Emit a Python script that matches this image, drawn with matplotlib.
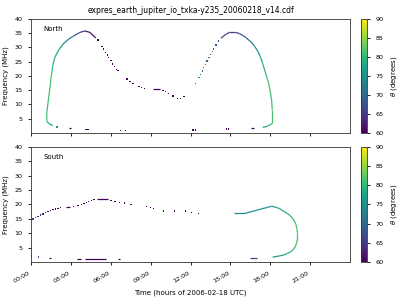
import numpy as np
import matplotlib
matplotlib.use('Agg')
from matplotlib import pyplot as plt
from matplotlib.collections import LineCollection
from matplotlib.ticker import FuncFormatter

title = 'expres_earth_jupiter_io_txka-y235_20060218_v14.cdf'

# North hemisphere -------------------------------------------------------
# continuous arcs: time (h), frequency (MHz), theta (deg)
n_arc1_t = [1.65, 1.43, 1.2, 1.18, 1.2, 1.28, 1.35, 1.43, 1.5, 1.58, 1.65, 1.78, 1.95,
            2.18, 2.48, 2.85, 3.23, 3.68, 4.05, 4.43, 4.88]
n_arc1_f = [2.7, 3.0, 4.0, 5.5, 7.7, 10.5, 13.3, 16.0, 19.2, 21.5, 23.9, 26.3, 28.0,
            29.8, 31.5, 33.0, 34.1, 35.3, 35.8, 35.3, 33.3]
n_arc1_th = [77, 79, 81, 81, 81, 81, 81, 81, 81, 80, 80, 79, 78,
             76, 74, 71, 68, 65, 62, 61, 60]

n_arc2_t = [14.3, 14.5, 14.73, 14.93, 15.38, 15.68, 15.93, 16.18, 16.38, 16.55, 16.8, 17.05,
            17.25, 17.43, 17.58, 17.73, 17.88, 18.0, 18.1, 18.15, 18.15, 18.05, 17.88, 17.68, 17.43]
n_arc2_f = [33.2, 34.1, 34.8, 35.3, 35.3, 34.9, 34.2, 33.5, 32.6, 32.0, 30.6, 28.8,
            26.8, 24.4, 22.1, 19.8, 17.4, 14.5, 11.6, 8.1, 3.4, 3.0, 2.6, 2.2, 2.0]
n_arc2_th = [67, 66, 65, 65, 66, 67, 69, 70, 72, 73, 75, 76,
             78, 79, 80, 81, 81, 81, 81, 81, 81, 79, 77, 76, 75]

# isolated points
n_dot_t = [1.95, 5.05, 5.35, 5.48, 5.63, 5.75, 5.85, 6.03, 6.15, 6.3, 6.45, 6.55, 7.23, 7.45,
           7.68, 8.13, 8.3, 8.55, 9.93, 10.13, 10.35, 10.68, 11.0, 11.25, 11.5,
           4.13, 4.28, 6.73, 7.1, 12.18, 12.38, 14.73, 14.88,
           12.38, 12.63, 12.75, 12.88, 13.0, 13.13, 13.25, 13.38, 13.5, 13.63, 13.75, 13.93, 14.13]
n_dot_f = [2.1, 32.6, 30.3, 29.5, 28.3, 27.4, 26.6, 25.4, 24.2, 23.3, 22.3, 21.9, 18.9, 18.0,
           17.3, 16.4, 16.0, 15.7, 15.0, 14.5, 13.9, 13.0, 12.2, 12.2, 12.9,
           1.3, 1.3, 0.95, 0.95, 1.05, 1.05, 1.4, 1.4,
           17.4, 19.4, 20.6, 21.8, 22.9, 24.1, 25.3, 26.4, 27.6, 28.5, 29.5, 30.9, 32.3]
n_dot_th = [75, 60, 60, 60, 60, 60, 60, 60, 60, 60, 60, 60, 60, 60,
            60, 60, 60, 60, 60, 60, 60, 60, 60, 60, 60,
            60, 60, 60, 60, 60, 60, 60, 60,
            71, 71, 71, 70, 70, 70, 70, 69, 69, 69, 68, 68, 67]

# short horizontal dashes: start, end, frequency, theta
n_dash_t0 = [2.85, 9.18, 16.55]
n_dash_t1 = [3.0, 9.68, 16.8]
n_dash_f = [1.6, 15.3, 1.6]
n_dash_th = [60, 60, 60]

# South hemisphere -------------------------------------------------------
s_arc_t = [15.3, 16.1, 16.4, 16.75, 17.05, 17.45, 17.8, 18.1, 18.45, 18.68, 18.85, 19.05, 19.3,
           19.5, 19.68, 19.8, 19.93, 20.0, 20.05, 20.05, 19.98, 19.88, 19.75, 19.55, 19.3,
           19.0, 18.68, 18.18]
s_arc_f = [16.9, 16.9, 17.3, 17.7, 18.1, 18.6, 19.0, 19.4, 19.0, 18.6, 18.1, 17.5, 16.8,
           16.1, 15.2, 14.3, 13.1, 11.7, 10.0, 8.0, 6.5, 5.3, 4.4, 3.6, 3.0,
           2.4, 2.1, 1.7]
s_arc_th = [74, 74, 74, 75, 75, 75, 75, 76, 76, 77, 78, 78, 79,
            80, 80, 81, 81, 81, 81, 81, 81, 80, 80, 79, 78,
            77, 76, 75]

s_dot_t = [0.15, 0.33, 0.53, 0.73, 0.9, 1.1, 1.28, 1.48, 1.65, 1.83, 2.03, 2.23, 3.2, 3.53,
           3.78, 3.98, 4.15, 4.33, 4.53, 4.73, 6.03, 6.33, 6.65, 7.03, 7.53, 8.68, 8.98,
           9.23, 9.98, 10.8, 11.63, 12.1, 12.6, 0.03, 0.58]
s_dot_f = [15.0, 15.4, 15.9, 16.3, 16.7, 17.2, 17.5, 17.8, 18.2, 18.4, 18.7, 18.9, 19.4, 19.6,
           20.1, 20.4, 20.8, 21.1, 21.5, 21.7, 21.5, 21.1, 20.8, 20.5, 20.1, 19.2, 18.9,
           18.5, 17.7, 17.7, 17.7, 17.3, 16.9, 2.1, 1.7]
s_dot_th = [64, 64, 63, 63, 62, 62, 61, 61, 61, 61, 60, 60, 60, 60,
            60, 60, 60, 60, 60, 60, 60, 60, 60, 60, 60, 60, 60,
            60, 60, 60, 60, 60, 60, 70, 68]

s_dash_t0 = [2.65, 4.98, 1.33, 3.45, 4.08, 6.58, 16.5]
s_dash_t1 = [2.9, 5.78, 1.48, 3.73, 5.65, 6.73, 17.0]
s_dash_f = [19.0, 21.8, 1.3, 0.9, 0.9, 0.9, 1.3]
s_dash_th = [60, 60, 60, 60, 60, 60, 66]

xticks = [0, 3, 6, 9, 12, 15, 18, 21]
yticks = [5, 10, 15, 20, 25, 30, 35, 40]
cbticks = [60, 65, 70, 75, 80, 85, 90]

cmap = plt.get_cmap('viridis')
norm = plt.Normalize(60, 90)

plt.rcParams['font.size'] = 4.6
plt.rcParams['axes.linewidth'] = 0.6
plt.rcParams['axes.edgecolor'] = '#333333'
plt.rcParams['xtick.major.width'] = 0.6
plt.rcParams['ytick.major.width'] = 0.6
plt.rcParams['xtick.major.size'] = 2.5
plt.rcParams['ytick.major.size'] = 2.5


def draw_arc(ax, t, f, th):
	points = np.array([t, f]).T.reshape(-1, 1, 2)
	segments = np.concatenate([points[:-1], points[1:]], axis=1)
	lc = LineCollection(segments, cmap=cmap, norm=norm, linewidths=0.9)
	lc.set_array(np.array(th[:-1]))
	ax.add_collection(lc)


def draw_panel(ax, arcs, dots, dashes, label):
	for t, f, th in arcs:
		draw_arc(ax, t, f, th)
	t, f, th = dots
	ax.scatter(t, f, c=th, cmap=cmap, norm=norm, marker='s', s=0.9, linewidths=0)
	t0, t1, f, th = dashes
	ax.hlines(f, t0, t1, colors=cmap(norm(np.array(th))), linewidth=0.9)
	ax.set_xlim(0, 24)
	ax.set_ylim(0, 40)
	ax.set_xticks(xticks)
	ax.set_yticks(yticks)
	ax.set_ylabel('Frequency (MHz)', fontsize=5)
	ax.text(0.04, 0.91, label, transform=ax.transAxes, fontsize=5, va='center')


fig = plt.figure(figsize=(4, 3), dpi=100)
ax1 = fig.add_axes([0.0775, 0.5567, 0.7975, 0.38])
ax2 = fig.add_axes([0.0775, 0.1267, 0.7975, 0.3833])
cax1 = fig.add_axes([0.9025, 0.5567, 0.016, 0.38])
cax2 = fig.add_axes([0.9025, 0.1267, 0.016, 0.3833])

draw_panel(ax1, [(n_arc1_t, n_arc1_f, n_arc1_th), (n_arc2_t, n_arc2_f, n_arc2_th)],
           (n_dot_t, n_dot_f, n_dot_th), (n_dash_t0, n_dash_t1, n_dash_f, n_dash_th), 'North')
draw_panel(ax2, [(s_arc_t, s_arc_f, s_arc_th)],
           (s_dot_t, s_dot_f, s_dot_th), (s_dash_t0, s_dash_t1, s_dash_f, s_dash_th), 'South')

ax1.set_xticklabels([])
ax2.xaxis.set_major_formatter(FuncFormatter(lambda x, pos: '%02d:00' % int(x)))
plt.setp(ax2.get_xticklabels(), rotation=30, ha='right')
ax2.set_xlabel('Time (hours of 2006-02-18 UTC)', fontsize=5)
ax1.set_title(title, fontsize=5.5, pad=4)

sm = plt.cm.ScalarMappable(norm=norm, cmap=cmap)
for cax in (cax1, cax2):
	cb = fig.colorbar(sm, cax=cax)
	cb.set_ticks(cbticks)
	cb.set_label(r'$\theta$ (degrees)', fontsize=5)
	cb.outline.set_linewidth(0.6)

fig.savefig('out.png', dpi=100)
